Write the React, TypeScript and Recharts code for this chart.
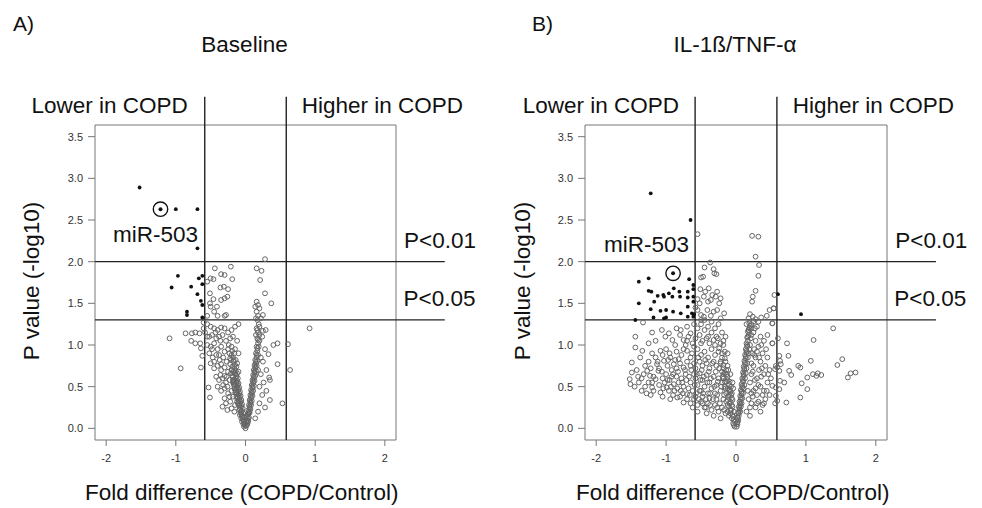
import { ScatterChart, Scatter, XAxis, YAxis, ReferenceLine, ReferenceArea } from 'recharts';

type Pt = [number, number];

// axis settings (R-style: data range padded by 4%)
const xDomain: [number, number] = [-2.16, 2.16];
const yDomain: [number, number] = [-0.14, 3.64];
const xTicks = [-2, -1, 0, 1, 2];
const yTicks = [0, 0.5, 1, 1.5, 2, 2.5, 3, 3.5];
const foldCut = 0.585;
const pCuts = [2, 1.301];

// A) Baseline
const baselineSig: Pt[] = [
  [-1.52, 2.89], [-1.0, 2.63], [-0.69, 2.63], [-0.69, 2.16], [-0.97, 1.83], [-1.06, 1.69],
  [-0.78, 1.7], [-0.67, 1.8], [-0.62, 1.83], [-0.62, 1.73], [-0.69, 1.61], [-0.64, 1.53],
  [-0.62, 1.48], [-0.84, 1.4], [-0.84, 1.36], [-0.62, 1.33],
];
const baselineMir: Pt[] = [[-1.22, 2.63]];
const baselineNs: Pt[] = [
  [0.28, 2.03], [-0.44, 1.92], [-0.21, 1.94], [-0.35, 1.85], [-0.3, 1.84], [-0.19, 1.79], [0.16, 1.92],
  [0.23, 1.89], [0.21, 1.78], [-0.5, 1.8], [-0.46, 1.79], [-0.55, 1.76], [-0.36, 1.69], [-0.31, 1.7],
  [-0.25, 1.67], [-0.51, 1.62], [0.28, 1.62], [-0.35, 1.54], [-0.3, 1.56], [-0.26, 1.58], [-0.46, 1.55],
  [-0.51, 1.5], [0.37, 1.5], [0.16, 1.52], [0.18, 1.48], [0.14, 1.46], [-0.41, 1.46], [-0.5, 1.46],
  [0.16, 1.4], [0.18, 1.35], [0.15, 1.32], [-0.45, 1.4], [-0.4, 1.35], [-0.3, 1.35], [-0.28, 1.36],
  [-0.55, 1.35], [0.2, 1.44], [0.22, 1.32], [0.25, 1.36],
  [-1.09, 1.08], [-0.86, 1.14], [-0.77, 1.14], [-0.72, 1.15], [-0.66, 1.14], [-0.78, 1.05], [-0.72, 1.02],
  [-0.65, 1.02], [-0.64, 0.96], [-0.93, 0.72], [-0.64, 0.73], [-0.6, 1.2], [-0.62, 0.87], [-0.6, 1.27],
  [-0.55, 1.25], [-0.5, 1.22], [-0.45, 1.2], [-0.4, 1.18], [-0.35, 1.21], [-0.3, 1.2], [-0.25, 1.15],
  [-0.2, 1.18], [-0.15, 1.22], [-0.1, 1.25], [-0.58, 1.15], [-0.52, 1.1], [-0.48, 1.12], [-0.42, 1.08],
  [-0.38, 1.1], [-0.33, 1.12], [-0.28, 1.05], [-0.22, 1.08], [-0.18, 1.1], [-0.12, 1.05], [-0.55, 1.0],
  [-0.5, 0.98], [-0.45, 1.02], [-0.4, 0.95], [-0.35, 0.98], [-0.3, 0.92], [-0.25, 0.95], [-0.2, 0.98],
  [-0.15, 0.95], [-0.1, 0.9], [-0.52, 0.9], [-0.47, 0.85], [-0.42, 0.88], [-0.37, 0.82], [-0.32, 0.85],
  [-0.27, 0.8], [-0.22, 0.84], [-0.17, 0.82], [-0.12, 0.78], [-0.5, 0.78], [-0.45, 0.72], [-0.4, 0.75],
  [-0.35, 0.7], [-0.3, 0.73], [-0.25, 0.68], [-0.2, 0.7], [-0.15, 0.66], [-0.1, 0.68], [-0.42, 0.62],
  [-0.38, 0.58], [-0.33, 0.6], [-0.28, 0.55], [-0.23, 0.58], [-0.18, 0.55], [-0.4, 0.5], [-0.35, 0.45],
  [-0.3, 0.48], [-0.25, 0.42], [-0.2, 0.45], [-0.3, 0.36], [-0.22, 0.32], [-0.18, 0.38], [-0.15, 0.28],
  [-0.26, 0.22], [-0.51, 0.37], [-0.53, 0.49], [-0.33, 0.26],
  [-0.02, 0.02], [-0.03, 0.05], [-0.05, 0.08], [-0.02, 0.1], [-0.06, 0.12], [-0.04, 0.15], [-0.08, 0.16],
  [-0.06, 0.2], [-0.03, 0.18], [-0.09, 0.22], [-0.07, 0.25], [-0.04, 0.24], [-0.1, 0.28], [-0.08, 0.3],
  [-0.05, 0.29], [-0.12, 0.32], [-0.09, 0.35], [-0.06, 0.34], [-0.13, 0.38], [-0.1, 0.4], [-0.07, 0.39],
  [-0.14, 0.43], [-0.11, 0.45], [-0.08, 0.44], [-0.16, 0.48], [-0.12, 0.5], [-0.09, 0.49], [-0.17, 0.53],
  [-0.13, 0.55], [-0.1, 0.54], [-0.18, 0.58], [-0.14, 0.6], [-0.11, 0.6], [-0.19, 0.63], [-0.15, 0.65],
  [-0.12, 0.66], [-0.2, 0.7], [-0.16, 0.72], [-0.13, 0.74], [-0.22, 0.77], [-0.17, 0.8], [-0.14, 0.82],
  [-0.2, 0.88], [-0.16, 0.9], [-0.01, 0.06], [0.01, 0.08], [-0.02, 0.14], [0.02, 0.14],
  [-0.01, 0.04], [-0.03, 0.09], [-0.04, 0.11], [-0.05, 0.14], [-0.06, 0.17], [-0.07, 0.19], [-0.05, 0.21],
  [-0.08, 0.23], [-0.09, 0.27], [-0.06, 0.27], [-0.11, 0.3], [-0.07, 0.32], [-0.1, 0.33], [-0.12, 0.36],
  [-0.08, 0.37], [-0.11, 0.38], [-0.13, 0.41], [-0.09, 0.42], [-0.12, 0.43], [-0.15, 0.46], [-0.1, 0.47],
  [-0.13, 0.48], [-0.16, 0.51], [-0.11, 0.52], [-0.15, 0.53], [-0.17, 0.56], [-0.12, 0.57], [-0.16, 0.58],
  [-0.18, 0.62], [-0.13, 0.63], [-0.21, 0.66], [-0.17, 0.68], [-0.14, 0.69], [-0.19, 0.74], [-0.15, 0.76],
  [-0.21, 0.82], [-0.18, 0.85], [-0.23, 0.9], [-0.19, 0.93], [-0.24, 1.0], [-0.27, 0.62], [-0.3, 0.63],
  [-0.26, 0.5], [-0.32, 0.52], [-0.23, 0.38], [-0.28, 0.3], [-0.2, 0.24], [-0.16, 0.2], [-0.36, 0.64],
  [-0.45, 0.8], [-0.35, 0.77], [-0.38, 0.88], [-0.48, 0.95], [-0.55, 1.1], [-0.43, 1.15], [-0.36, 1.05],
  [0.0, 0.0], [0.01, 0.03], [0.03, 0.06], [0.02, 0.1], [0.04, 0.12], [0.03, 0.16], [0.05, 0.18],
  [0.04, 0.22], [0.06, 0.24], [0.05, 0.28], [0.07, 0.3], [0.06, 0.34], [0.08, 0.36], [0.07, 0.4],
  [0.09, 0.42], [0.08, 0.46], [0.1, 0.48], [0.09, 0.52], [0.11, 0.54], [0.1, 0.58], [0.12, 0.6],
  [0.11, 0.64], [0.13, 0.66], [0.12, 0.7], [0.14, 0.72], [0.13, 0.76], [0.15, 0.78], [0.14, 0.82],
  [0.16, 0.85], [0.15, 0.9], [0.17, 0.93], [0.16, 0.98], [0.18, 1.02], [0.17, 1.08], [0.15, 1.12],
  [0.18, 1.15], [0.16, 1.2], [0.19, 1.25],
  [0.02, 0.04], [0.03, 0.08], [0.04, 0.09], [0.05, 0.13], [0.04, 0.17], [0.06, 0.19], [0.05, 0.2],
  [0.07, 0.23], [0.06, 0.26], [0.08, 0.28], [0.07, 0.32], [0.09, 0.33], [0.08, 0.38], [0.1, 0.39],
  [0.09, 0.44], [0.11, 0.45], [0.1, 0.5], [0.12, 0.51], [0.11, 0.56], [0.13, 0.57], [0.12, 0.62],
  [0.14, 0.63], [0.13, 0.68], [0.15, 0.69], [0.14, 0.74], [0.16, 0.75], [0.15, 0.8], [0.17, 0.81],
  [0.16, 0.88], [0.18, 0.88], [0.17, 0.96], [0.19, 0.98], [0.18, 1.06], [0.2, 1.12], [0.17, 1.18],
  [0.2, 1.22],
  [0.92, 1.2], [0.61, 1.01], [0.64, 0.7], [0.46, 1.02], [0.4, 1.0], [0.33, 0.89], [0.46, 0.77],
  [0.35, 0.58], [0.34, 0.61], [0.35, 0.34], [0.53, 0.3], [0.29, 1.18], [0.25, 1.17], [0.17, 1.3],
  [0.28, 0.95], [0.25, 0.8], [0.3, 0.7], [0.22, 0.65], [0.26, 0.55], [0.3, 0.45], [0.24, 0.4],
  [0.2, 0.3], [0.28, 0.25], [0.22, 0.85], [0.2, 1.05], [0.24, 1.1], [0.18, 0.2], [0.14, 0.12],
  [0.2, 0.5], [0.18, 0.7],
];

// B) IL-1ß/TNF-α
const cytokineSig: Pt[] = [
  [-1.22, 2.82], [-0.65, 2.5], [-1.39, 1.76], [-1.25, 1.8], [-0.67, 1.79], [-1.25, 1.65], [-1.21, 1.64],
  [-1.12, 1.59], [-1.04, 1.6], [-1.03, 1.58], [-0.96, 1.62], [-0.89, 1.68], [-0.81, 1.64], [-0.91, 1.58],
  [-0.8, 1.58], [-0.69, 1.64], [-0.69, 1.57], [-0.61, 1.72], [-0.61, 1.67], [-0.61, 1.58], [-0.61, 1.52],
  [-1.39, 1.5], [-1.22, 1.43], [-1.17, 1.52], [-1.08, 1.41], [-1.0, 1.42], [-0.9, 1.4], [-0.79, 1.38],
  [-0.69, 1.46], [-0.63, 1.38], [-0.6, 1.37], [-1.44, 1.3], [-1.18, 1.33], [-1.03, 1.32], [-1.0, 1.33],
  [-0.69, 1.34], [-0.61, 1.34], [0.6, 1.61], [0.93, 1.37],
];
const cytokineMir: Pt[] = [[-0.9, 1.86]];
const cytokineNs: Pt[] = [
  [-0.55, 2.33], [0.23, 2.31], [0.32, 2.3], [0.28, 2.06],
  [-0.37, 1.99], [-0.45, 1.93], [-0.32, 1.91], [-0.5, 1.81], [-0.47, 1.82], [-0.31, 1.86], [0.33, 1.96],
  [0.32, 1.83], [-0.28, 1.85],
  [-0.51, 1.67], [-0.44, 1.64], [-0.46, 1.58], [-0.39, 1.68], [-0.34, 1.6], [-0.36, 1.54], [-0.29, 1.58],
  [-0.24, 1.5], [-0.22, 1.56], [0.28, 1.65], [0.24, 1.58], [0.23, 1.52], [0.55, 1.6], [-0.55, 1.55],
  [-0.52, 1.5], [-0.4, 1.52], [-0.27, 1.64],
  [-0.41, 1.42], [-0.32, 1.4], [-0.27, 1.42], [-0.17, 1.38], [-0.55, 1.42], [-0.46, 1.34], [0.48, 1.42],
  [0.44, 1.35], [0.2, 1.37], [0.24, 1.34], [0.54, 1.44], [-0.58, 1.45], [-0.5, 1.36], [-0.36, 1.35],
  [-0.22, 1.32], [0.18, 1.32], [0.28, 1.31], [0.36, 1.33],
  [-1.33, 1.27], [-1.44, 1.1], [-1.06, 1.18], [-0.79, 1.18], [-0.65, 1.14], [-1.01, 1.1], [-0.96, 1.14],
  [-0.91, 1.06], [-0.75, 1.06], [-0.87, 1.0], [-1.44, 0.97], [-1.2, 1.15], [-1.15, 1.05], [-1.25, 1.02],
  [-0.85, 1.2], [-0.7, 1.22], [-0.6, 1.25], [-0.55, 1.2], [-0.5, 1.25], [-0.45, 1.18], [-0.4, 1.22],
  [-0.35, 1.15], [-0.3, 1.2], [-0.25, 1.25], [-0.2, 1.15], [-0.15, 1.1], [-0.58, 1.08], [-0.52, 1.12],
  [-0.48, 1.05], [-0.42, 1.08], [-0.38, 1.02], [-0.32, 1.06], [-0.28, 1.1], [-0.22, 1.02], [-0.18, 1.05],
  [-0.62, 1.02], [-0.68, 1.1], [-0.72, 1.0], [-0.8, 1.12],
  [0.15, 1.25], [0.19, 1.26], [0.22, 1.2], [0.25, 1.15], [0.18, 1.18], [0.3, 1.22], [0.35, 1.1],
  [0.4, 1.05], [0.45, 1.12], [0.28, 1.05], [0.52, 1.26], [0.52, 1.02], [0.73, 1.02], [1.11, 1.06],
  [1.39, 1.2], [0.6, 1.08], [0.32, 1.28],
  [-1.34, 0.93], [-1.37, 0.85], [-1.49, 0.79], [-1.08, 0.93], [-0.7, 0.93], [-0.94, 0.85], [-0.89, 0.77],
  [-0.82, 0.83], [-0.75, 0.73], [-1.03, 0.81], [-1.13, 0.77], [-1.27, 0.69], [-1.2, 0.9], [-1.15, 0.85],
  [-1.0, 0.95], [-0.95, 0.9], [-0.85, 0.92], [-0.78, 0.88], [-0.65, 0.85], [-0.6, 0.78], [-0.55, 0.95],
  [-0.5, 0.88], [-0.45, 0.92], [-0.4, 0.85], [-0.35, 0.95], [-0.3, 0.88], [-0.25, 0.92], [-0.2, 0.85],
  [-0.15, 0.8], [-0.58, 0.72], [-0.52, 0.8], [-0.48, 0.75], [-0.42, 0.78], [-0.38, 0.72], [-0.32, 0.8],
  [-0.28, 0.75], [-0.22, 0.78], [-0.18, 0.72], [-0.12, 0.75], [-1.25, 0.8], [-1.1, 0.72], [-0.98, 0.75],
  [-0.92, 0.7], [-0.85, 0.72], [-0.7, 0.8], [-0.65, 0.75],
  [-1.49, 0.67], [-1.52, 0.59], [-1.51, 0.53], [-1.32, 0.65], [-1.39, 0.55], [-1.23, 0.63], [-1.25, 0.55],
  [-1.2, 0.49], [-1.15, 0.59], [-1.11, 0.69], [-1.18, 0.45], [-1.08, 0.43], [-0.99, 0.49], [-0.89, 0.53],
  [-0.79, 0.45], [-0.7, 0.41], [-0.65, 0.55], [-0.6, 0.65], [-1.4, 0.62], [-1.3, 0.5], [-1.35, 0.45],
  [-1.28, 0.42], [-1.22, 0.4], [-1.05, 0.6], [-1.0, 0.65], [-0.95, 0.58], [-0.92, 0.62], [-0.88, 0.45],
  [-0.85, 0.62], [-0.82, 0.55], [-0.78, 0.6], [-0.75, 0.5], [-0.72, 0.65], [-0.68, 0.48], [-0.62, 0.45],
  [-0.58, 0.6], [-0.55, 0.52], [-0.52, 0.66], [-0.5, 0.45], [-0.48, 0.58], [-0.45, 0.5], [-0.42, 0.64],
  [-0.4, 0.42], [-0.38, 0.55], [-0.35, 0.48], [-0.32, 0.62], [-0.3, 0.42], [-0.28, 0.52], [-0.25, 0.6],
  [-0.22, 0.45], [-0.2, 0.55], [-0.18, 0.65], [-0.15, 0.48], [-0.12, 0.58], [-0.1, 0.45], [-1.45, 0.5],
  [-1.1, 0.52], [-0.96, 0.45], [-1.02, 0.55],
  [-0.94, 0.35], [-0.84, 0.37], [-0.75, 0.31], [-1.05, 0.38], [-0.9, 0.4], [-0.8, 0.38], [-0.7, 0.35],
  [-0.65, 0.3], [-0.6, 0.35], [-0.55, 0.28], [-0.5, 0.32], [-0.45, 0.25], [-0.4, 0.3], [-0.35, 0.22],
  [-0.3, 0.28], [-0.25, 0.2], [-0.2, 0.25], [-0.15, 0.18], [-0.12, 0.28], [-0.1, 0.15], [-0.08, 0.22],
  [-0.58, 0.38], [-0.48, 0.38], [-0.38, 0.36], [-0.28, 0.35], [-0.18, 0.35], [-0.55, 0.2], [-0.42, 0.18],
  [-0.32, 0.15], [-0.22, 0.12], [-0.62, 0.25],
  [-1.3, 0.75], [-1.22, 0.72], [-1.18, 0.62], [-1.12, 0.8], [-1.06, 0.68], [-1.04, 0.48], [-0.98, 0.58],
  [-0.97, 0.82], [-0.93, 0.5], [-0.9, 0.65], [-0.87, 0.82], [-0.84, 0.48], [-0.83, 0.68], [-0.8, 0.78],
  [-0.77, 0.55], [-0.76, 0.42], [-0.73, 0.7], [-0.71, 0.58], [-0.67, 0.62], [-0.66, 0.4], [-0.64, 0.7],
  [-0.63, 0.9], [-0.59, 0.52], [-0.57, 0.42], [-0.56, 0.65], [-0.54, 0.85], [-0.53, 0.35], [-0.51, 0.58],
  [-0.49, 0.7], [-0.47, 0.42], [-0.46, 0.62], [-0.44, 0.82], [-0.43, 0.35], [-0.41, 0.55], [-0.39, 0.68],
  [-0.37, 0.42], [-0.36, 0.6], [-0.34, 0.78], [-0.33, 0.35], [-0.31, 0.5], [-0.29, 0.68], [-0.27, 0.4],
  [-0.26, 0.56], [-0.24, 0.72], [-0.23, 0.3], [-0.21, 0.5], [-0.19, 0.62], [-0.17, 0.4], [-0.16, 0.56],
  [-0.14, 0.32], [-0.13, 0.65], [-0.11, 0.38], [-0.11, 0.7], [-0.09, 0.3], [-0.09, 0.56], [-0.07, 0.5],
  [-0.06, 0.42], [-0.43, 0.25], [-0.37, 0.28], [-0.27, 0.25], [-0.17, 0.22], [-0.12, 0.2], [-0.48, 0.3],
  [-0.52, 0.45], [-0.3, 1.0], [-0.4, 1.1], [-0.5, 1.02], [-0.6, 0.98], [-0.26, 1.08], [-0.16, 0.92],
  [-1.2, 0.55], [-1.35, 0.6], [-1.42, 0.7], [-1.05, 0.88], [-0.7, 1.05], [-0.75, 0.95], [-0.5, 1.3],
  [-0.45, 1.3], [-0.35, 1.28], [-0.12, 0.9], [-0.08, 0.65], [-0.05, 0.55], [-0.04, 0.48],
  [-0.02, 0.02], [-0.04, 0.06], [-0.03, 0.1], [-0.06, 0.12], [-0.05, 0.16], [-0.08, 0.18], [-0.07, 0.22],
  [-0.05, 0.26], [-0.1, 0.26], [-0.08, 0.32], [-0.12, 0.34], [-0.06, 0.36], [-0.1, 0.4], [-0.14, 0.42],
  [-0.08, 0.44], [-0.12, 0.48], [-0.16, 0.5], [-0.1, 0.52], [-0.14, 0.56], [-0.18, 0.6], [-0.12, 0.62],
  [-0.16, 0.66], [-0.2, 0.68], [-0.14, 0.7], [-0.18, 0.76], [-0.22, 0.8], [-0.16, 0.84], [-0.2, 0.9],
  [-0.24, 0.96], [-0.18, 1.0], [-0.03, 0.04], [-0.01, 0.08], [-0.04, 0.14], [-0.03, 0.2], [-0.06, 0.28],
  [-0.05, 0.34], [-0.07, 0.4], [-0.09, 0.47],
  [0.01, 0.02], [0.02, 0.05], [0.03, 0.09], [0.02, 0.13], [0.04, 0.15], [0.03, 0.19], [0.05, 0.22],
  [0.04, 0.26], [0.06, 0.28], [0.05, 0.32], [0.07, 0.35], [0.06, 0.39], [0.08, 0.42], [0.07, 0.46],
  [0.09, 0.49], [0.08, 0.53], [0.1, 0.56], [0.09, 0.6], [0.11, 0.63], [0.1, 0.67], [0.12, 0.7],
  [0.11, 0.74], [0.13, 0.77], [0.12, 0.81], [0.14, 0.84], [0.13, 0.88], [0.15, 0.91], [0.14, 0.95],
  [0.16, 0.98], [0.15, 1.02], [0.17, 1.05], [0.16, 1.09], [0.18, 1.12], [0.17, 1.16], [0.19, 1.2],
  [0.13, 0.6], [0.15, 0.72], [0.17, 0.85], [0.19, 0.95], [0.21, 1.08], [0.06, 0.2], [0.08, 0.3],
  [0.1, 0.42], [0.12, 0.52],
  [0.02, 0.07], [0.03, 0.11], [0.04, 0.18], [0.05, 0.24], [0.06, 0.3], [0.07, 0.37], [0.08, 0.44],
  [0.09, 0.51], [0.1, 0.58], [0.11, 0.65], [0.12, 0.72], [0.13, 0.79], [0.14, 0.86], [0.15, 0.93],
  [0.16, 1.0], [0.17, 1.1], [0.18, 1.18], [0.2, 1.23], [0.14, 0.66], [0.16, 0.78], [0.18, 0.9],
  [0.2, 1.0], [0.22, 1.12], [0.11, 0.48], [0.09, 0.36], [0.07, 0.26], [0.22, 0.78], [0.24, 0.68],
  [0.27, 0.58], [0.26, 0.88], [0.3, 0.92], [0.33, 0.85], [0.37, 0.72], [0.36, 0.62], [0.32, 0.52],
  [0.28, 0.48], [0.24, 0.38], [0.2, 0.25], [0.17, 0.45], [0.22, 0.42], [0.3, 0.3], [0.38, 0.4],
  [0.44, 0.45], [0.46, 0.65], [0.43, 0.95], [0.4, 0.3], [0.35, 0.2], [0.25, 1.28], [0.22, 1.25],
  [0.27, 1.2],
  [0.2, 0.55], [0.22, 0.65], [0.25, 0.75], [0.28, 0.85], [0.23, 0.9], [0.3, 0.6], [0.33, 0.7],
  [0.35, 0.8], [0.38, 0.9], [0.4, 0.65], [0.42, 0.75], [0.45, 0.85], [0.48, 0.7], [0.5, 0.6],
  [0.25, 0.45], [0.3, 0.4], [0.35, 0.5], [0.4, 0.45], [0.45, 0.55], [0.18, 0.35], [0.22, 0.3],
  [0.28, 0.25], [0.32, 0.32], [0.38, 0.28], [0.15, 0.2], [0.2, 0.15], [0.42, 0.35], [0.48, 0.4],
  [0.26, 0.95], [0.32, 0.98], [0.36, 1.0],
  [0.75, 0.87], [1.07, 0.81], [1.52, 0.83], [1.45, 0.76], [0.89, 0.75], [0.92, 0.73], [0.76, 0.69],
  [0.79, 0.64], [1.1, 0.65], [1.17, 0.66], [1.22, 0.64], [1.15, 0.63], [1.02, 0.61], [0.94, 0.54],
  [1.02, 0.47], [0.92, 0.37], [1.6, 0.61], [1.64, 0.66], [1.71, 0.67], [0.62, 0.87], [0.63, 0.81],
  [0.64, 0.77], [0.59, 0.73], [0.57, 0.75], [0.56, 0.71], [0.62, 0.69], [0.52, 1.02], [0.54, 1.44],
  [0.52, 1.26], [0.52, 0.51], [0.57, 0.49], [0.62, 0.47], [0.69, 0.55], [0.63, 0.57], [0.57, 0.39],
  [0.59, 0.33], [0.56, 0.3], [0.72, 0.31],
];

const toData = (pts: Pt[]) => pts.map(([x, y]) => ({ x, y }));

const Hollow = (p: any) => (
  <circle cx={p.cx} cy={p.cy} r={2.4} fill="none" stroke="#666" strokeWidth={1} />
);
const Solid = (p: any) => <circle cx={p.cx} cy={p.cy} r={1.9} fill="#111" />;
const Ringed = (p: any) => (
  <g>
    <circle cx={p.cx} cy={p.cy} r={7.2} fill="none" stroke="#111" strokeWidth={1.4} />
    <circle cx={p.cx} cy={p.cy} r={2} fill="#111" />
  </g>
);

const tickStyle = { fontSize: 11, fill: '#333', fontFamily: 'Liberation Sans, Arial, sans-serif' };

function Volcano({ ns, sig, mir, left }: { ns: Pt[]; sig: Pt[]; mir: Pt[]; left: number }) {
  return (
    <ScatterChart width={491} height={508} margin={{ top: 125, right: 95, bottom: 38, left }}>
      <XAxis
        type="number"
        dataKey="x"
        domain={xDomain}
        ticks={xTicks}
        allowDataOverflow
        axisLine={false}
        tickLine={{ stroke: '#777' }}
        tickSize={6}
        tickMargin={8}
        height={30}
        tick={tickStyle}
      />
      <YAxis
        type="number"
        dataKey="y"
        domain={yDomain}
        ticks={yTicks}
        allowDataOverflow
        axisLine={false}
        tickLine={{ stroke: '#777' }}
        tickSize={7}
        tickMargin={5}
        width={40}
        tick={tickStyle}
        tickFormatter={(v: number) => v.toFixed(1)}
      />
      <ReferenceArea
        x1={xDomain[0]}
        x2={xDomain[1]}
        y1={yDomain[0]}
        y2={yDomain[1]}
        fill="none"
        fillOpacity={0}
        stroke="#777"
        strokeWidth={1}
        ifOverflow="visible"
      />
      <Scatter data={toData(ns)} shape={Hollow} isAnimationActive={false} />
      <Scatter data={toData(sig)} shape={Solid} isAnimationActive={false} />
      <Scatter data={toData(mir)} shape={Ringed} isAnimationActive={false} />
      {[-foldCut, foldCut].map((v) => (
        <ReferenceLine
          key={`v${v}`}
          segment={[{ x: v, y: yDomain[0] }, { x: v, y: 3.98 }]}
          stroke="#222"
          strokeWidth={1.4}
          ifOverflow="visible"
        />
      ))}
      {pCuts.map((v) => (
        <ReferenceLine
          key={`h${v}`}
          segment={[{ x: xDomain[0], y: v }, { x: 2.86, y: v }]}
          stroke="#222"
          strokeWidth={1.4}
          ifOverflow="visible"
        />
      ))}
    </ScatterChart>
  );
}

const font = 'Liberation Sans, Arial, sans-serif';

export default function App() {
  return (
    <div style={{ position: 'absolute', left: 0, top: 0, width: 982, height: 508, background: '#fff' }}>
      <div style={{ position: 'absolute', left: 0, top: 0 }}>
        <Volcano ns={baselineNs} sig={baselineSig} mir={baselineMir} left={55} />
      </div>
      <div style={{ position: 'absolute', left: 491, top: 0 }}>
        <Volcano ns={cytokineNs} sig={cytokineSig} mir={cytokineMir} left={54} />
      </div>
      <svg
        width={982}
        height={508}
        style={{ position: 'absolute', left: 0, top: 0, pointerEvents: 'none' }}
        fontFamily={font}
        fill="#111"
      >
        <text x={13} y={31} fontSize={21}>A)</text>
        <text x={244.5} y={52} fontSize={22.5} textAnchor="middle">Baseline</text>
        <text x={31.5} y={112.5} fontSize={22.5}>Lower in COPD</text>
        <text x={301.7} y={112.5} fontSize={22.5}>Higher in COPD</text>
        <text x={404} y={248} fontSize={22.5}>P&lt;0.01</text>
        <text x={403.5} y={305.5} fontSize={22.5}>P&lt;0.05</text>
        <text x={113} y={241.5} fontSize={22.5}>miR-503</text>
        <text x={39} y={281} fontSize={22.5} textAnchor="middle" transform="rotate(-90 39 281)">
          P value (-log10)
        </text>
        <text x={241.7} y={500} fontSize={22.5} textAnchor="middle">Fold difference (COPD/Control)</text>

        <text x={532} y={31} fontSize={21}>B)</text>
        <text x={735} y={52} fontSize={22.5} textAnchor="middle">IL-1ß/TNF-α</text>
        <text x={522.7} y={112.5} fontSize={22.5}>Lower in COPD</text>
        <text x={792.7} y={112.5} fontSize={22.5}>Higher in COPD</text>
        <text x={895.3} y={248} fontSize={22.5}>P&lt;0.01</text>
        <text x={894.3} y={305.5} fontSize={22.5}>P&lt;0.05</text>
        <text x={604} y={251.5} fontSize={22.5}>miR-503</text>
        <text x={530} y={281} fontSize={22.5} textAnchor="middle" transform="rotate(-90 530 281)">
          P value (-log10)
        </text>
        <text x={732.7} y={500} fontSize={22.5} textAnchor="middle">Fold difference (COPD/Control)</text>
      </svg>
    </div>
  );
}
